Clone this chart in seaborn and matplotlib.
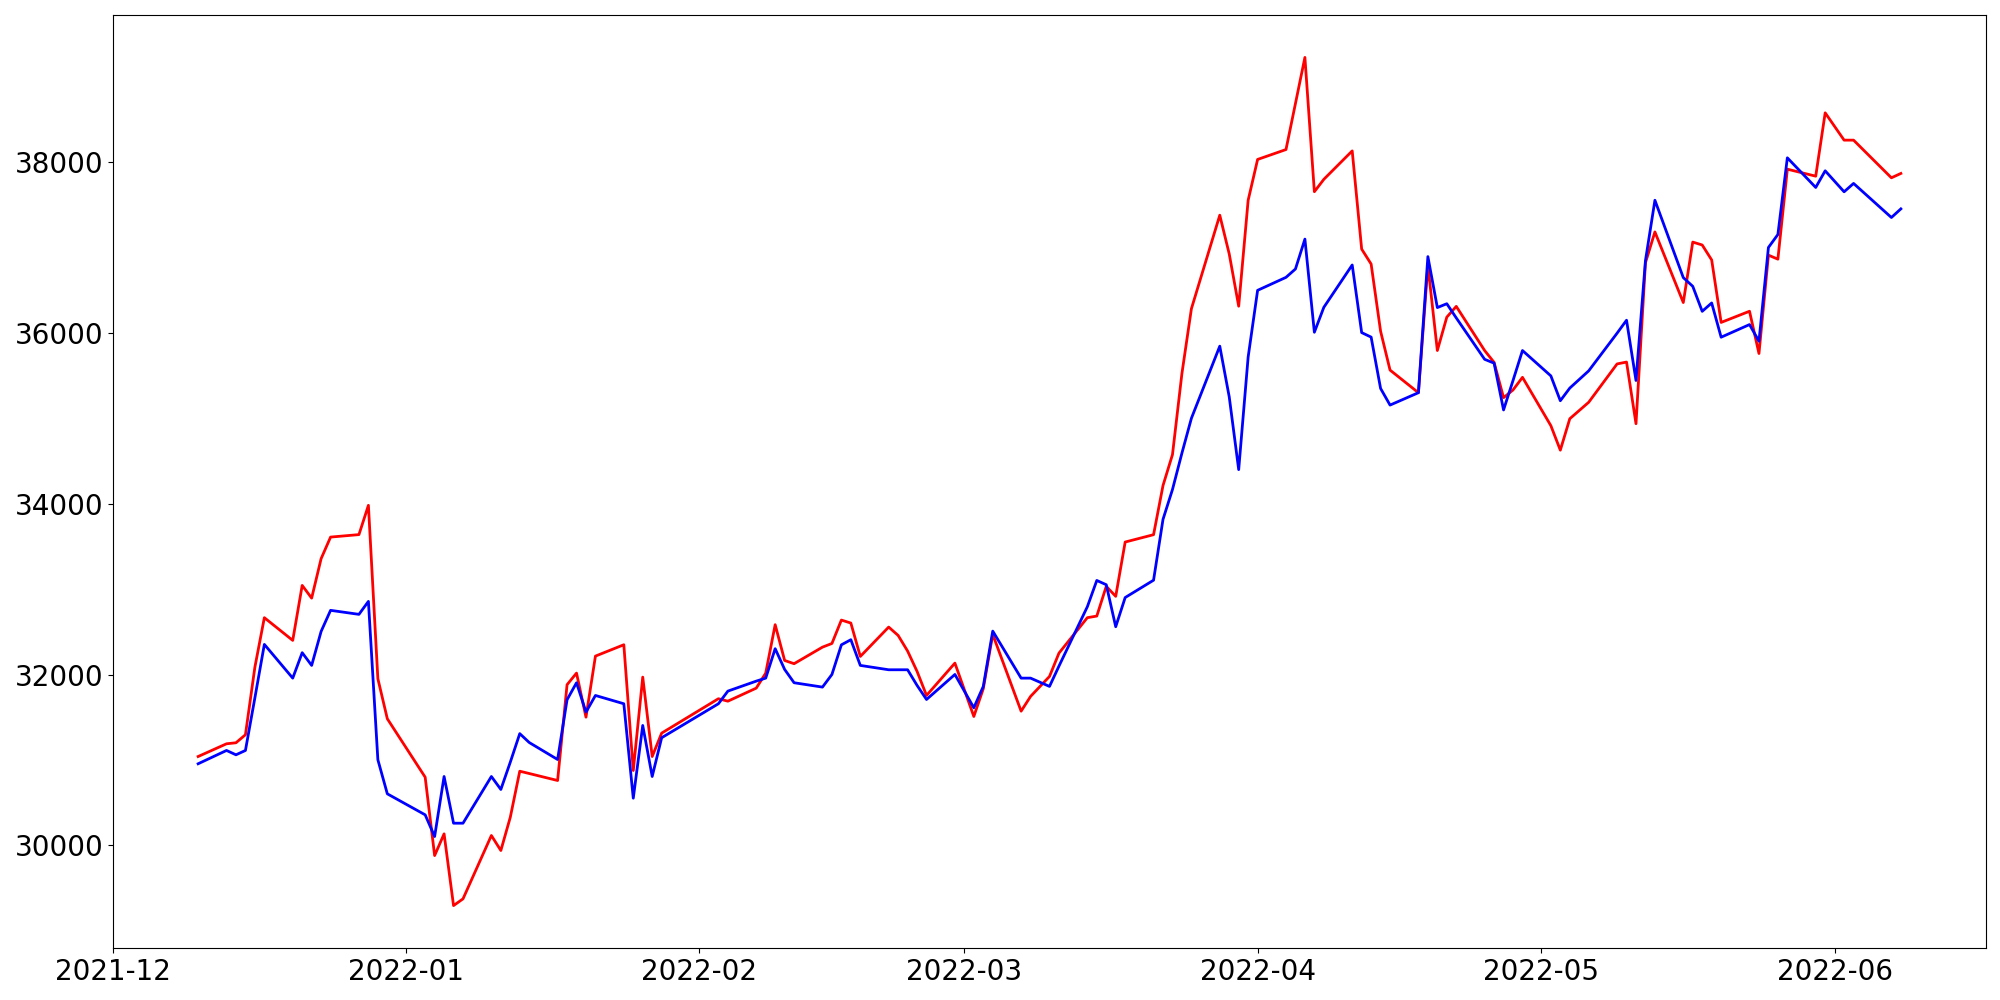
import pandas as pd
import matplotlib
matplotlib.use('Agg')
import matplotlib.pyplot as plt
import seaborn as sns

# trading days (korean market calendar, holidays skipped)
dates = ['2021-12-10', '2021-12-13', '2021-12-14', '2021-12-15', '2021-12-16', '2021-12-17',
         '2021-12-20', '2021-12-21', '2021-12-22', '2021-12-23', '2021-12-24',
         '2021-12-27', '2021-12-28', '2021-12-29', '2021-12-30',
         '2022-01-03', '2022-01-04', '2022-01-05', '2022-01-06', '2022-01-07',
         '2022-01-10', '2022-01-11', '2022-01-12', '2022-01-13', '2022-01-14',
         '2022-01-17', '2022-01-18', '2022-01-19', '2022-01-20', '2022-01-21',
         '2022-01-24', '2022-01-25', '2022-01-26', '2022-01-27', '2022-01-28',
         '2022-02-03', '2022-02-04',
         '2022-02-07', '2022-02-08', '2022-02-09', '2022-02-10', '2022-02-11',
         '2022-02-14', '2022-02-15', '2022-02-16', '2022-02-17', '2022-02-18',
         '2022-02-21', '2022-02-22', '2022-02-23', '2022-02-24', '2022-02-25',
         '2022-02-28', '2022-03-02', '2022-03-03', '2022-03-04',
         '2022-03-07', '2022-03-08', '2022-03-10', '2022-03-11',
         '2022-03-14', '2022-03-15', '2022-03-16', '2022-03-17', '2022-03-18',
         '2022-03-21', '2022-03-22', '2022-03-23', '2022-03-24', '2022-03-25',
         '2022-03-28', '2022-03-29', '2022-03-30', '2022-03-31', '2022-04-01',
         '2022-04-04', '2022-04-05', '2022-04-06', '2022-04-07', '2022-04-08',
         '2022-04-11', '2022-04-12', '2022-04-13', '2022-04-14', '2022-04-15',
         '2022-04-18', '2022-04-19', '2022-04-20', '2022-04-21', '2022-04-22',
         '2022-04-25', '2022-04-26', '2022-04-27', '2022-04-28', '2022-04-29',
         '2022-05-02', '2022-05-03', '2022-05-04', '2022-05-06',
         '2022-05-09', '2022-05-10', '2022-05-11', '2022-05-12', '2022-05-13',
         '2022-05-16', '2022-05-17', '2022-05-18', '2022-05-19', '2022-05-20',
         '2022-05-23', '2022-05-24', '2022-05-25', '2022-05-26', '2022-05-27',
         '2022-05-30', '2022-05-31', '2022-06-02', '2022-06-03',
         '2022-06-07', '2022-06-08']

# red series
red_vals = [31042, 31191, 31203, 31297, 32089, 32668,
            32402, 33046, 32897, 33359, 33612,
            33641, 33984, 31953, 31484,
            30800, 29882, 30136, 29296, 29375,
            30117, 29941, 30331, 30870, 30843,
            30761, 31883, 32019, 31503, 32218,
            32351, 30878, 31972, 31042, 31316,
            31719, 31690,
            31843, 32019, 32586, 32167, 32129,
            32323, 32366, 32640, 32605, 32214,
            32558, 32460, 32277, 32039, 31757,
            32136, 31511, 31836, 32472,
            31573, 31746, 31980, 32253,
            32668, 32687, 33035, 32918, 33554,
            33640, 34216, 34578, 35529, 36286,
            37382, 36928, 36316, 37557, 38035,
            38151, 38690, 39230, 37657, 37802,
            38135, 36985, 36810, 36023, 35568,
            35303, 36794, 35797, 36188, 36314,
            35797, 35658, 35245, 35335, 35483,
            34917, 34630, 34998, 35191,
            35640, 35662, 34940, 36825, 37186,
            36359, 37067, 37033, 36858, 36126,
            36257, 35762, 36914, 36867, 37921,
            37839, 38581, 38261, 38261,
            37820, 37871]

# blue series
blue_vals = [30957, 31113, 31062, 31113, 31730, 32355,
             31960, 32258, 32109, 32507, 32754,
             32707, 32859, 31004, 30605,
             30359, 30105, 30808, 30261, 30261,
             30808, 30656, 30976, 31310, 31206,
             31007, 31707, 31906, 31562, 31757,
             31660, 30554, 31406, 30808, 31262,
             31660, 31808,
             31925, 31960, 32305, 32062, 31906,
             31855, 32003, 32350, 32410, 32109,
             32058, 32058, 32058, 31875, 31710,
             32003, 31613, 31863, 32511,
             31960, 31960, 31863, 32101,
             32796, 33104, 33054, 32562, 32904,
             33107, 33820, 34169, 34596, 35003,
             35848, 35254, 34402, 35721, 36502,
             36654, 36752, 37102, 36011, 36303,
             36799, 36007, 35954, 35353, 35158,
             35303, 36897, 36300, 36345, 36179,
             35694, 35649, 35101, 35446, 35797,
             35500, 35209, 35357, 35559,
             36000, 36152, 35446, 36850, 37557,
             36651, 36549, 36256, 36354, 35953,
             36101, 35906, 37004, 37156, 38054,
             37707, 37902, 37656, 37754,
             37355, 37456]

df = pd.DataFrame({'date': pd.to_datetime(dates), 'red': red_vals, 'blue': blue_vals})

fig, ax = plt.subplots(figsize=(20, 10), dpi=100)
sns.lineplot(x='date', y='red', data=df, color='red', linewidth=2, ax=ax)
sns.lineplot(x='date', y='blue', data=df, color='blue', linewidth=2, ax=ax)

ax.set_xlabel('')
ax.set_ylabel('')
ax.tick_params(labelsize=20)

plt.subplots_adjust(left=0.0565, right=0.993, top=0.985, bottom=0.052)
plt.savefig('out.png')
